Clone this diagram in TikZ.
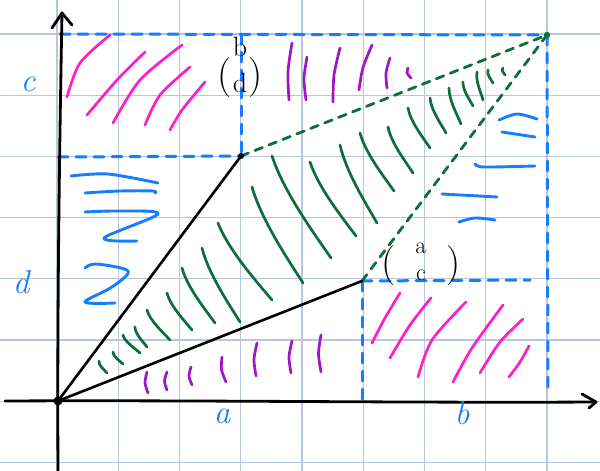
\documentclass[tikz,border=0pt]{standalone}
\definecolor{gridc}{RGB}{184,198,224}
\definecolor{bluec}{RGB}{22,125,255}
\definecolor{magc}{RGB}{255,30,200}
\definecolor{purc}{RGB}{160,20,200}
\definecolor{greenc}{RGB}{12,110,58}
\tikzset{
  gridline/.style={draw=gridc, line width=1.2pt},
  axisline/.style={draw=black, line width=2.8pt},
  vecline/.style={draw=black, line width=2.6pt},
  bdash/.style={draw=bluec, line width=3pt, dash pattern=on 10pt off 8pt},
  gdash/.style={draw=greenc, line width=2.8pt, dash pattern=on 8pt off 7pt},
  gstroke/.style={draw=greenc, line width=2.7pt},
  mstroke/.style={draw=magc, line width=2.7pt},
  pstroke/.style={draw=purc, line width=2.7pt},
  bstroke/.style={draw=bluec, line width=2.9pt},
  axlab/.style={text=bluec, font=\fontsize{33}{35}\selectfont\itshape, inner sep=0pt},
  veclab/.style={text=black, inner sep=0pt, anchor=base},
}
\newcommand{\bigpar}[1]{{\fontsize{40}{40}\selectfont#1}}
\begin{document}
\begin{tikzpicture}[x=1pt, y=-1pt, line cap=round, line join=round]
\useasboundingbox (0,0) rectangle (600,471);
\fill[white] (0,0) rectangle (600,471);
% grid
\foreach \gx in {57,118.25,179.5,240.75,302,363.25,424.5,485.75,547}
  \draw[gridline] (\gx,0) -- (\gx,471);
\foreach \gy in {34,95.2,156.4,217.6,278.8,340,401.2,462.4}
  \draw[gridline] (0,\gy) -- (600,\gy);

% key points
\coordinate (O) at (58,401);
\coordinate (P) at (241,156);
\coordinate (Q) at (362,281);
\coordinate (S) at (547,35);
\coordinate (TL) at (60,34);
\coordinate (TP) at (241,34);
\coordinate (LP) at (58,157);
\coordinate (QR) at (530,280);
\coordinate (QB) at (362,401);
\coordinate (SB) at (548,390);
\coordinate (XL) at (5,401);
\coordinate (XR) at (596,402);
\coordinate (YT) at (62,13);
\coordinate (YB) at (58,471);

% blue dashed frame lines
\draw[bdash] (TL) -- (S);
\draw[bdash] (LP) -- (P);
\draw[bdash] (TP) -- (P);
\draw[bdash] (S) -- (SB);
\draw[bdash] (Q) -- (QR);
\draw[bdash] (Q) -- (QB);

% green dashed sides
\draw[gdash] (P) -- (S);
\draw[gdash] (Q) -- (S);
\fill[greenc] (S) circle (3.2pt);

% green hatching
\foreach \a/\b/\c/\d in {
  99/361/107/373, 113/352/123/364, 123/335/140/353, 135/327/147/347,
  147/310/170/340, 167/293/192/330, 182/268/215/323, 202/248/240/322,
  218/223/272/300, 252/187/303/283, 272/156/331/258, 310/162/356/236,
  340/145/377/223, 360/133/394/191, 388/127/413/173, 408/108/430/148,
  430/98/446/133, 449/88/461/124, 463/82/473/106, 477/72/483/100,
  488/70/493/83, 503/68/505/75}
  \draw[gstroke] (\a,\b) .. controls ({\a+0.25*(\c-\a)-3},{\b+0.35*(\d-\b)}) and ({\a+0.7*(\c-\a)},{\b+0.75*(\d-\b)}) .. (\c,\d);

% magenta hatching
\foreach \a/\b/\c/\d/\e/\f in {
  67/97/80/63/110/35, 87/115/117/80/145/52, 113/123/140/80/182/45,
  145/125/160/95/190/67, 170/130/182/110/205/82,
  372/343/385/318/400/293, 390/358/410/325/431/298, 418/377/432/340/466/302,
  453/382/472/348/503/305, 480/373/500/342/523/319, 509/377/520/362/529/346}
  \draw[mstroke] plot[smooth] coordinates {(\a,\b) (\c,\d) (\e,\f)};

% purple strokes
\foreach \a/\b/\c/\d in {
  292/43/289/100, 307/57/306/100, 340/48/333/102, 372/45/359/90,
  390/58/387/88, 408/68/411/78,
  147/372/148/393, 167/372/167/390, 191/367/192/385, 222/357/226/382,
  257/343/256/376, 292/341/291/373, 321/335/321/372}
  \draw[pstroke] plot[smooth] coordinates {(\a,\b) ({0.5*(\a+\c)-2.5},{0.5*(\b+\d)}) (\c,\d)};

% blue strokes, left
\draw[bstroke] plot[smooth] coordinates {(71,176) (108,174) (158,183)};
\draw[bstroke] plot[smooth] coordinates {(85,193) (120,191) (153,191) (155,193)};
\draw[bstroke] plot[smooth, tension=0.55] coordinates {(85,212) (120,211) (158,214) (104,238) (137,241)};
\draw[bstroke] plot[smooth, tension=0.55] coordinates {(85,268) (96,264) (128,271) (112,287) (85,302) (115,303)};
% blue strokes, right
\draw[bstroke] plot[smooth] coordinates {(499,120) (517,114) (537,119)};
\draw[bstroke] (502,132) -- (535,137);
\draw[bstroke] plot[smooth] coordinates {(475,164) (484,167) (535,166)};
\draw[bstroke] (442,194) -- (497,197);
\draw[bstroke] plot[smooth] coordinates {(459,222) (475,218) (495,220)};

% axes
\draw[axisline] (XL) .. controls (200,400) and (400,403) .. (XR);
\draw[axisline] (582,394) -- (XR) -- (589,408);
\draw[axisline] (YB) .. controls (57,300) and (60,120) .. (YT);
\draw[axisline] (52,28) -- (YT) -- (72,25);

% vectors
\draw[vecline] (O) -- (P);
\draw[vecline] (O) -- (Q);
\fill[black] (O) circle (4.5pt);
\fill[black] (P) circle (3pt);

% labels
\node[axlab] (lc) at (28,84) {c};
\node[axlab] (ld) at (21,282) {d};
\node[axlab] (la) at (222,416) {a};
\node[axlab] (lb) at (462,413) {b};
\node[veclab] (vbd) at (240,87) {\bigpar{(}\hspace{1pt}\raisebox{-5pt}{\fontsize{28}{36}\selectfont\begin{tabular}[b]{@{}c@{}}b\\ d\end{tabular}}\hspace{1pt}\bigpar{)}};
\node[veclab] (vac) at (421,275) {\bigpar{(}\hspace{20pt}\raisebox{-5pt}{\fontsize{24}{27}\selectfont\begin{tabular}[b]{@{}c@{}}a\\ c\end{tabular}}\hspace{20pt}\bigpar{)}};
\end{tikzpicture}
\end{document}
